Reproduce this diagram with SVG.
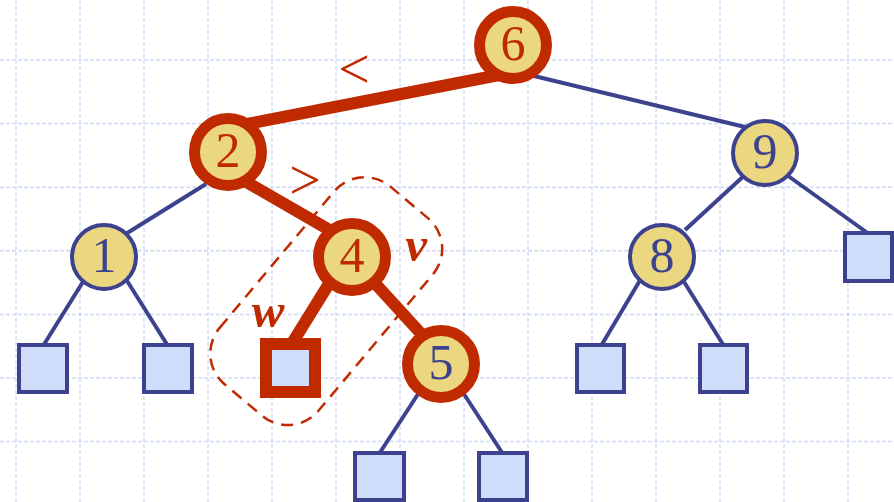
<svg xmlns="http://www.w3.org/2000/svg" width="894" height="502" viewBox="0 0 894 502">
<style>
.grid line{stroke:#d0dbf7;stroke-width:1.5;stroke-dasharray:4 2}
.be{stroke:#3d428e;stroke-width:4;fill:none}
.re{stroke:#c02a00;stroke-width:12;fill:none}
.bn{fill:#ebd77f;stroke:#3d428e;stroke-width:4}
.rn{fill:#ebd77f;stroke:#c02a00;stroke-width:11}
.leaf{fill:#cfdcfa;stroke:#3d428e;stroke-width:4}
.rleaf{fill:#cfdcfa;stroke:#c02a00;stroke-width:12}
.t{font-family:"Liberation Serif","Times New Roman",serif;font-size:50px;text-anchor:middle}
.op{font-family:"Liberation Serif","Times New Roman",serif;font-size:56px;text-anchor:middle;fill:#c02a00}
.tr{fill:#c02a00}
.tb{fill:#3d428e}
.lbl{font-family:"Liberation Serif","Times New Roman",serif;font-size:49px;font-style:italic;font-weight:bold;fill:#c02a00;text-anchor:middle}
</style>
<rect width="894" height="502" fill="#ffffff"/>
<g class="grid">
<line x1="16" y1="0" x2="16" y2="502"/><line x1="80" y1="0" x2="80" y2="502"/><line x1="144" y1="0" x2="144" y2="502"/><line x1="208" y1="0" x2="208" y2="502"/><line x1="272" y1="0" x2="272" y2="502"/><line x1="336" y1="0" x2="336" y2="502"/><line x1="400" y1="0" x2="400" y2="502"/><line x1="464" y1="0" x2="464" y2="502"/><line x1="528" y1="0" x2="528" y2="502"/><line x1="592" y1="0" x2="592" y2="502"/><line x1="656" y1="0" x2="656" y2="502"/><line x1="720" y1="0" x2="720" y2="502"/><line x1="784" y1="0" x2="784" y2="502"/><line x1="848" y1="0" x2="848" y2="502"/>
<line x1="0" y1="60" x2="894" y2="60"/><line x1="0" y1="123.6" x2="894" y2="123.6"/><line x1="0" y1="187.2" x2="894" y2="187.2"/><line x1="0" y1="250.8" x2="894" y2="250.8"/><line x1="0" y1="314.4" x2="894" y2="314.4"/><line x1="0" y1="378" x2="894" y2="378"/><line x1="0" y1="441.6" x2="894" y2="441.6"/>
</g>
<g id="connectors">
<line class="be" x1="530" y1="75" x2="745" y2="127"/>
<line class="be" x1="124" y1="235" x2="206" y2="184"/>
<line class="be" x1="86" y1="277" x2="43" y2="346"/>
<line class="be" x1="124" y1="276" x2="168" y2="346"/>
<line class="be" x1="747" y1="173" x2="685" y2="230"/>
<line class="be" x1="784" y1="173" x2="869" y2="234"/>
<line class="be" x1="642" y1="277" x2="601" y2="346"/>
<line class="be" x1="681" y1="277" x2="724" y2="346"/>
<line class="be" x1="422" y1="388" x2="379" y2="454"/>
<line class="be" x1="460" y1="388" x2="503" y2="454"/>
<line class="re" x1="247" y1="124" x2="499" y2="75"/>
<line class="re" x1="243" y1="180" x2="333" y2="232"/>
<line class="re" x1="330" y1="282" x2="291" y2="345"/>
<line class="re" x1="372" y1="280" x2="425" y2="338"/>
</g>
<g id="n6"><circle class="rn" cx="513" cy="45" r="33.5"/><text class="t tr" x="513" y="60">6</text></g>
<g id="n2"><circle class="rn" cx="228" cy="152" r="33.5"/><text class="t tr" x="228" y="167">2</text></g>
<g id="n9"><circle class="bn" cx="765" cy="153" r="32"/><text class="t tb" x="765" y="168">9</text></g>
<g id="n1"><circle class="bn" cx="104" cy="257" r="32"/><text class="t tb" x="104" y="272">1</text></g>
<g id="n4"><circle class="rn" cx="352" cy="257" r="33.5"/><text class="t tr" x="352" y="272">4</text></g>
<g id="n8"><circle class="bn" cx="662" cy="257" r="32"/><text class="t tb" x="662" y="272">8</text></g>
<g id="n5"><circle class="rn" cx="441" cy="364" r="33.5"/><text class="t tb" x="441" y="379">5</text></g>
<g id="l1a"><rect class="leaf" x="19" y="345" width="48" height="47"/></g>
<g id="l1b"><rect class="leaf" x="144" y="345" width="48" height="47"/></g>
<g id="l8a"><rect class="leaf" x="577" y="345" width="47" height="47"/></g>
<g id="l8b"><rect class="leaf" x="700" y="345" width="47" height="47"/></g>
<g id="l9b"><rect class="leaf" x="845" y="233" width="47" height="48"/></g>
<g id="l5a"><rect class="leaf" x="355" y="453" width="49" height="47"/></g>
<g id="l5b"><rect class="leaf" x="479" y="453" width="48" height="47"/></g>
<g id="w"><rect class="rleaf" x="266" y="344" width="49" height="48"/></g>
<g id="region"><rect x="-150" y="379" width="258" height="129" rx="40" ry="40" transform="rotate(-50)" fill="none" stroke="#c02a00" stroke-width="2.5" stroke-dasharray="12 8"/></g>
<g id="labels">
<text class="op" x="354" y="88">&lt;</text>
<text class="op" x="305" y="199">&gt;</text>
<text class="lbl" x="268" y="327">w</text>
<text class="lbl" x="416" y="261">v</text>
</g>
</svg>
